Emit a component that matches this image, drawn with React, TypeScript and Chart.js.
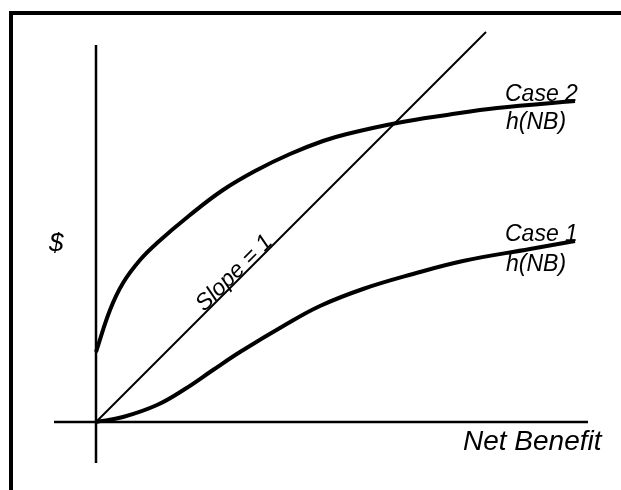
import React, { useEffect, useRef } from "react";
import { Chart, registerables } from "chart.js";

Chart.register(...registerables);

// Net Benefit (x) readings and $ (y) readings
const case2X = [0, 1.4, 2.7, 4.4, 6.1, 9.4, 12.7, 16.1, 19.4, 22.7, 25.1, 30.1, 35.1, 40.1, 47.9];
const case2Y = [7.0, 11.2, 13.9, 16.2, 17.9, 20.7, 23.2, 25.2, 26.8, 28.1, 28.8, 29.9, 30.7, 31.4, 32.1];
const case1X = [0, 2.7, 6.1, 8.9, 11.7, 14.4, 18.9, 22.4, 26.7, 31.7, 36.7, 43.4, 47.9];
const case1Y = [0, 0.5, 1.7, 3.3, 5.2, 7.0, 9.7, 11.6, 13.3, 14.8, 16.1, 17.3, 18.1];
const slopeX = [0, 39.0];
const slopeY = [0, 39.0];
const vAxisY = [-4.1, 37.7];
const hAxisX = [-4.2, 49.2];

const X_MIN = -9.6;
const X_MAX = 52.5;
const Y_MIN = -6.8;
const Y_MAX = 42.2;

const FONT = '"Liberation Sans", Arial, sans-serif';

const labelTexts = ["Case 2", "h(NB)", "Case 1", "h(NB)", "Net Benefit", "$"];
const labelAnchors = [
  { x: 40.9, y: 32.1, size: 23 },
  { x: 41.0, y: 29.3, size: 23 },
  { x: 40.9, y: 18.1, size: 23 },
  { x: 41.0, y: 15.1, size: 23 },
  { x: 36.7, y: -2.8, size: 28 },
  { x: -4.7, y: 17.1, size: 26 },
];
const slopeLabel = "Slope = 1";
const slopeLabelStart = 10.9;

function pts(xs: number[], ys: number[]) {
  return xs.map((x, i) => ({ x, y: ys[i] }));
}

export default function App() {
  const ref = useRef<HTMLCanvasElement | null>(null);
  useEffect(() => {
    if (!ref.current) return;
    const annotate = {
      id: "annotate",
      beforeDraw(chart: any) {
        const c = chart.ctx;
        c.save();
        c.fillStyle = "#000";
        c.fillRect(9, 11, 612, 4);
        c.fillRect(9, 11, 4, 479);
        c.restore();
      },
      afterDatasetsDraw(chart: any) {
        const c = chart.ctx;
        const xs = chart.scales.x;
        const ys = chart.scales.y;
        c.save();
        c.fillStyle = "#000";
        c.textAlign = "left";
        c.textBaseline = "alphabetic";
        labelTexts.forEach((t, i) => {
          const a = labelAnchors[i];
          c.font = `italic ${a.size}px ${FONT}`;
          c.fillText(t, xs.getPixelForValue(a.x), ys.getPixelForValue(a.y));
        });
        const p0x = xs.getPixelForValue(slopeX[0]);
        const p0y = ys.getPixelForValue(slopeY[0]);
        const p1x = xs.getPixelForValue(slopeX[1]);
        const p1y = ys.getPixelForValue(slopeY[1]);
        const ang = Math.atan2(p1y - p0y, p1x - p0x);
        const sx = xs.getPixelForValue(slopeLabelStart);
        const sy = ys.getPixelForValue(slopeLabelStart);
        c.translate(sx, sy);
        c.rotate(ang);
        c.font = `italic 23px ${FONT}`;
        c.fillText(slopeLabel, 0, -1);
        c.restore();
      },
    };
    const lineDs = (data: any[], w: number) => ({
      data,
      showLine: true,
      borderColor: "#000",
      backgroundColor: "#000",
      borderWidth: w,
      pointRadius: 0,
      fill: false,
      tension: 0.4,
      borderCapStyle: "butt" as const,
    });
    const chart = new Chart(ref.current, {
      type: "scatter",
      data: {
        datasets: [
          lineDs(pts([0, 0], vAxisY), 2.5),
          lineDs(pts(hAxisX, [0, 0]), 2.5),
          lineDs(pts(slopeX, slopeY), 2),
          lineDs(pts(case2X, case2Y), 4),
          lineDs(pts(case1X, case1Y), 4),
        ],
      },
      options: {
        responsive: false,
        animation: false,
        devicePixelRatio: 1,
        layout: { padding: 0 },
        plugins: { legend: { display: false }, tooltip: { enabled: false } },
        scales: {
          x: { type: "linear", min: X_MIN, max: X_MAX, display: false },
          y: { type: "linear", min: Y_MIN, max: Y_MAX, display: false },
        },
      },
      plugins: [annotate],
    });
    return () => chart.destroy();
  }, []);
  return (
    <div style={{ position: "fixed", left: 0, top: 0, width: 621, height: 490, background: "#fff" }}>
      <canvas ref={ref} width={621} height={490} style={{ width: 621, height: 490, display: "block" }} />
    </div>
  );
}
